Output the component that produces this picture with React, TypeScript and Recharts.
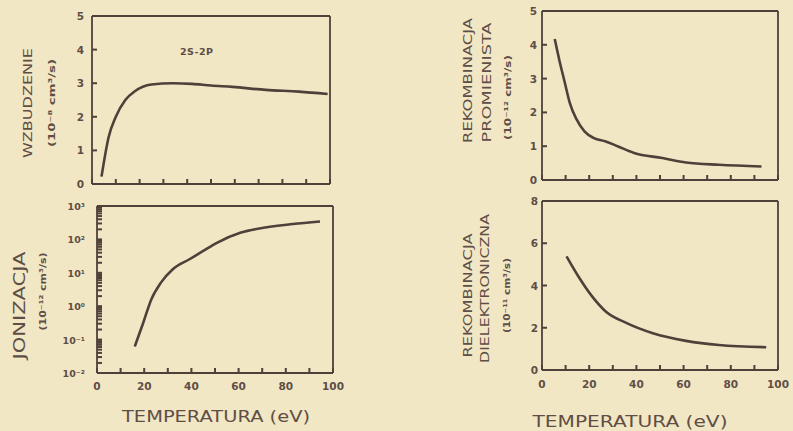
import React from "react";
import { LineChart, Line, XAxis, YAxis } from "recharts";

// ---- data ----
const excT = [4, 7, 10, 14, 18, 25, 34, 42, 50, 59, 73, 87, 99];
const excV = [0.22, 1.4, 2.0, 2.5, 2.76, 2.96, 3.0, 2.98, 2.93, 2.89, 2.8, 2.75, 2.68];

const ionT = [16, 19.6, 23, 27, 32, 39, 45, 51, 61, 72, 83, 94.5];
const ionV = [0.062, 0.32, 1.6, 5, 12.6, 25, 45, 80, 160, 230, 290, 345];

const radT = [5.4, 7.5, 9.6, 11.7, 14.6, 18, 22, 27, 32, 39, 51, 61, 75, 93];
const radV = [4.17, 3.5, 2.9, 2.3, 1.8, 1.44, 1.24, 1.14, 1.0, 0.8, 0.65, 0.52, 0.45, 0.4];

const dieT = [10.4, 15.7, 21.4, 27, 35.7, 47, 61, 75, 95];
const dieV = [5.38, 4.38, 3.46, 2.77, 2.23, 1.74, 1.38, 1.18, 1.08];

const xTicks = [0, 10, 20, 30, 40, 50, 60, 70, 80, 90, 100];
const xLabels = [0, 20, 40, 60, 80, 100];

const lin5Ticks = [0, 1, 2, 3, 4, 5];
const lin8Ticks = [0, 2, 4, 6, 8];
const logMajorText: Record<string, string> = {
  "0.01": "10\u207B\u00B2",
  "0.1": "10\u207B\u00B9",
  "1": "10\u2070",
  "10": "10\u00B9",
  "100": "10\u00B2",
  "1000": "10\u00B3",
};
const logMinorMultipliers = [2, 3, 4, 5, 6, 7, 8, 9];
const logTicks: number[] = [];
[0.01, 0.1, 1, 10, 100].forEach((d) => {
  logTicks.push(d);
  logMinorMultipliers.forEach((m) => logTicks.push(+(d * m).toPrecision(3)));
});
logTicks.push(1000);

const rows = (xs: number[], ys: number[]) => xs.map((t, i) => ({ t, v: ys[i] }));

// ---- style ----
const BG = "#f2e7c5";
const INK = "#4f403a";
const TXT = "#5f4e45";
const FONT = "'DejaVu Sans', 'Liberation Sans', sans-serif";
const W = 793;
const H = 431;
const TICK_LEN = 5;
const TICK_W = 2;

type TitleLine = { text: string; dx: number; dy: number; size: number; len: number; weight?: number };

function makeYTitle(lines: TitleLine[]) {
  return (props: any) => {
    const vb = props.viewBox || {};
    const cyBase = vb.y + vb.height / 2;
    const right = vb.x + vb.width;
    return (
      <g>
        {lines.map((l, i) => {
          const cx = right + l.dx;
          const cy = cyBase + l.dy;
          return (
            <text
              key={i}
              x={cx}
              y={cy}
              transform={`rotate(-90, ${cx}, ${cy})`}
              textAnchor="middle"
              dominantBaseline="central"
              fontFamily={FONT}
              fontSize={l.size}
              fontWeight={l.weight || 400}
              fill={TXT}
              textLength={l.len}
              lengthAdjust="spacingAndGlyphs"
            >
              {l.text}
            </text>
          );
        })}
      </g>
    );
  };
}

function makeXTitle(dx: number, dy: number, len: number) {
  return (props: any) => {
    const vb = props.viewBox || {};
    const cx = vb.x + vb.width / 2 + dx;
    return (
      <text
        x={cx}
        y={vb.y + dy}
        textAnchor="middle"
        fontFamily={FONT}
        fontSize={15}
        fill={TXT}
        textLength={len}
        lengthAdjust="spacingAndGlyphs"
      >
        TEMPERATURA (eV)
      </text>
    );
  };
}

// Tick lines are drawn by the axes themselves (negative tickSize => pointing inward);
// these renderers only draw the labels.
function bottomLabel(showLabels: boolean, labelDy: number) {
  return (p: any) => {
    const v = p.payload.value;
    if (!showLabels || !xLabels.includes(v)) return <g />;
    return (
      <text x={p.x} y={p.y + TICK_LEN + labelDy} textAnchor="middle" fontFamily={FONT} fontSize={10.5} fontWeight={700} fill={TXT}>
        {v}
      </text>
    );
  };
}

function leftLabel(labelGap: number, log: boolean) {
  return (p: any) => {
    const v = p.payload.value;
    const label = log ? logMajorText[String(v)] : String(v);
    if (!label) return <g />;
    return (
      <text x={p.x - TICK_LEN - labelGap} y={p.y + 4} textAnchor="end" fontFamily={FONT} fontSize={log ? 9.5 : 10.5} fontWeight={700} fill={TXT}>
        {label}
      </text>
    );
  };
}

type PanelProps = {
  data: { t: number; v: number }[];
  frame: { x: number; y: number; w: number; h: number };
  box: { l: number; t: number; r: number; b: number };
  yDomain: [number, number];
  yTicks: number[];
  log?: boolean;
  showXLabels: boolean;
  xLabelDy: number;
  yLabelGap: number;
  yTitle: TitleLine[];
  xTitle?: { dx: number; dy: number; len: number };
};

const AX = 1;

function Panel(pp: PanelProps) {
  const f = pp.frame;
  const margin = {
    left: pp.box.l - f.x - AX,
    top: pp.box.t - f.y - AX,
    right: f.x + f.w - pp.box.r - AX,
    bottom: f.y + f.h - pp.box.b - AX,
  };
  const tickLine = { stroke: INK, strokeWidth: TICK_W };
  const axisLine = { stroke: INK, strokeWidth: 1.8 };
  return (
    <div style={{ position: "absolute", left: f.x, top: f.y, width: f.w, height: f.h }}>
      <LineChart width={f.w} height={f.h} data={pp.data} margin={margin}>
        <XAxis
          dataKey="t"
          type="number"
          domain={[0, 100]}
          ticks={xTicks}
          interval={0}
          height={AX}
          tickSize={-TICK_LEN}
          tickMargin={0}
          stroke={INK}
          tickLine={tickLine}
          axisLine={axisLine}
          tick={bottomLabel(pp.showXLabels, pp.xLabelDy)}
          label={pp.xTitle ? makeXTitle(pp.xTitle.dx, pp.xTitle.dy, pp.xTitle.len) : undefined}
        />
        <XAxis
          xAxisId="top"
          orientation="top"
          dataKey="t"
          type="number"
          domain={[0, 100]}
          ticks={xTicks}
          interval={0}
          height={AX}
          tickSize={-TICK_LEN}
          tickMargin={0}
          stroke={INK}
          tickLine={tickLine}
          axisLine={axisLine}
          tick={false}
        />
        <YAxis
          type="number"
          scale={pp.log ? "log" : "linear"}
          domain={pp.yDomain}
          allowDataOverflow
          ticks={pp.yTicks}
          interval={0}
          width={AX}
          tickSize={-TICK_LEN}
          tickMargin={0}
          stroke={INK}
          tickLine={tickLine}
          axisLine={axisLine}
          tick={leftLabel(pp.yLabelGap, !!pp.log)}
          label={makeYTitle(pp.yTitle)}
        />
        <YAxis
          yAxisId="r"
          orientation="right"
          type="number"
          scale={pp.log ? "log" : "linear"}
          domain={pp.yDomain}
          allowDataOverflow
          ticks={pp.yTicks}
          interval={0}
          width={AX}
          tickSize={-TICK_LEN}
          tickMargin={0}
          stroke={INK}
          tickLine={tickLine}
          axisLine={axisLine}
          tick={false}
        />
        <Line
          dataKey="v"
          type="monotone"
          stroke={INK}
          strokeWidth={2.6}
          dot={false}
          isAnimationActive={false}
        />
        <Line
          xAxisId="top"
          yAxisId="r"
          dataKey="v"
          stroke="none"
          strokeWidth={0}
          dot={false}
          legendType="none"
          isAnimationActive={false}
        />
      </LineChart>
    </div>
  );
}

export default function App() {
  return (
    <div style={{ position: "absolute", left: 0, top: 0, width: W, height: H, background: BG, overflow: "hidden" }}>
      <Panel
        data={rows(excT, excV)}
        frame={{ x: 0, y: 0, w: 345, h: 195 }}
        box={{ l: 92, t: 16, r: 330, b: 184 }}
        yDomain={[0, 5]}
        yTicks={lin5Ticks}
        showXLabels={false}
        xLabelDy={16}
        yLabelGap={8}
        yTitle={[
          { text: "WZBUDZENIE", dx: -65, dy: 3, size: 13, len: 110 },
          { text: "(10\u207B\u2078 cm\u00B3/s)", dx: -40, dy: 3, size: 9, len: 88, weight: 700 },
        ]}
      />
      <Panel
        data={rows(ionT, ionV)}
        frame={{ x: 0, y: 195, w: 345, h: 236 }}
        box={{ l: 97, t: 206, r: 333, b: 373 }}
        yDomain={[0.01, 1000]}
        yTicks={logTicks}
        log
        showXLabels
        xLabelDy={17}
        yLabelGap={12}
        yTitle={[
          { text: "JONIZACJA", dx: -77, dy: 16, size: 15, len: 108 },
          { text: "(10\u207B\u00B9\u00B2 cm\u00B3/s)", dx: -54, dy: 2, size: 9, len: 78, weight: 700 },
        ]}
        xTitle={{ dx: 1, dy: 49, len: 188 }}
      />
      <Panel
        data={rows(radT, radV)}
        frame={{ x: 420, y: 0, w: 373, h: 195 }}
        box={{ l: 542, t: 11, r: 778, b: 180 }}
        yDomain={[0, 5]}
        yTicks={lin5Ticks}
        showXLabels={false}
        xLabelDy={16}
        yLabelGap={5}
        yTitle={[
          { text: "REKOMBINACJA", dx: -74, dy: -15, size: 12, len: 125 },
          { text: "PROMIENISTA", dx: -55, dy: -13, size: 12, len: 120 },
          { text: "(10\u207B\u00B9\u00B2 cm\u00B3/s)", dx: -34, dy: 2, size: 9, len: 85, weight: 700 },
        ]}
      />
      <Panel
        data={rows(dieT, dieV)}
        frame={{ x: 420, y: 195, w: 373, h: 236 }}
        box={{ l: 542, t: 201, r: 778, b: 370 }}
        yDomain={[0, 8]}
        yTicks={lin8Ticks}
        showXLabels
        xLabelDy={18}
        yLabelGap={4}
        yTitle={[
          { text: "REKOMBINACJA", dx: -74, dy: 10, size: 12, len: 124 },
          { text: "DIELEKTRONICZNA", dx: -57, dy: 3, size: 12, len: 149 },
          { text: "(10\u207B\u00B9\u00B9 cm\u00B3/s)", dx: -35, dy: 10, size: 9, len: 75, weight: 700 },
        ]}
        xTitle={{ dx: -30, dy: 57, len: 195 }}
      />
      <div
        style={{
          position: "absolute",
          left: 180,
          top: 46,
          fontFamily: FONT,
          fontSize: 9.5,
          fontWeight: 700,
          color: TXT,
          letterSpacing: 0.5,
        }}
      >
        2S-2P
      </div>
    </div>
  );
}
